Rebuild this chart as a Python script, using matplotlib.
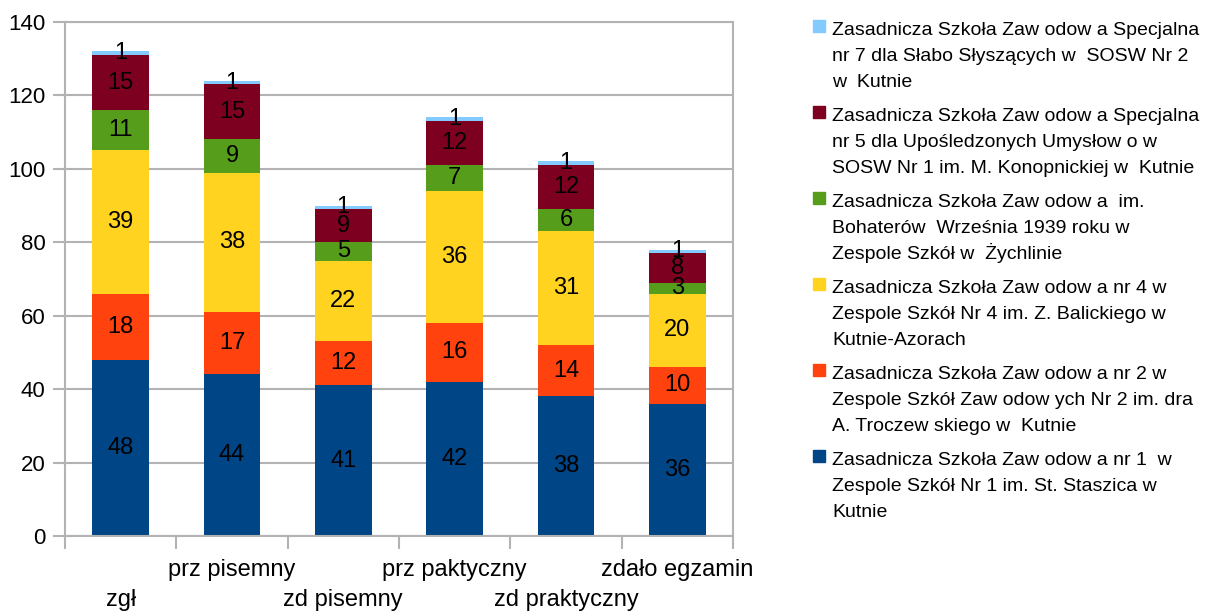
import numpy as np
import matplotlib
matplotlib.use('Agg')
import matplotlib.pyplot as plt
from matplotlib.patches import Rectangle

plt.rcParams['font.family'] = ['Liberation Sans', 'DejaVu Sans']

# categories (exam stages)
categories = ['zgł', 'prz pisemny', 'zd pisemny', 'prz paktyczny', 'zd praktyczny', 'zdało egzamin']

# one list per school, bottom of the stack first
zsz1 = [48, 44, 41, 42, 38, 36]
zsz2 = [18, 17, 12, 16, 14, 10]
zsz4 = [39, 38, 22, 36, 31, 20]
zsz_zychlin = [11, 9, 5, 7, 6, 3]
zsz5_spec = [15, 15, 9, 12, 12, 8]
zsz7_spec = [1, 1, 1, 1, 1, 1]

series = [zsz1, zsz2, zsz4, zsz_zychlin, zsz5_spec, zsz7_spec]
names = [
    ['Zasadnicza Szkoła Zaw odow a nr 1  w', 'Zespole Szkół Nr 1 im. St. Staszica w', 'Kutnie'],
    ['Zasadnicza Szkoła Zaw odow a nr 2 w', 'Zespole Szkół Zaw odow ych Nr 2 im. dra', 'A. Troczew skiego w  Kutnie'],
    ['Zasadnicza Szkoła Zaw odow a nr 4 w', 'Zespole Szkół Nr 4 im. Z. Balickiego w', 'Kutnie-Azorach'],
    ['Zasadnicza Szkoła Zaw odow a  im.', 'Bohaterów  Września 1939 roku w', 'Zespole Szkół w  Żychlinie'],
    ['Zasadnicza Szkoła Zaw odow a Specjalna', 'nr 5 dla Upośledzonych Umysłow o w', 'SOSW Nr 1 im. M. Konopnickiej w  Kutnie'],
    ['Zasadnicza Szkoła Zaw odow a Specjalna', 'nr 7 dla Słabo Słyszących w  SOSW Nr 2', 'w  Kutnie'],
]
colors = ['#004586', '#ff420e', '#ffd320', '#579d1c', '#7e0021', '#83caff']

fig = plt.figure(figsize=(12.05, 6.12), dpi=100)
ax = fig.add_axes([0.0539, 0.1242, 0.5544, 0.8399])

x = np.arange(len(categories))
bottom = np.zeros(len(categories))
for vals, col in zip(series, colors):
    bars = ax.bar(x, vals, width=0.51, bottom=bottom, color=col, zorder=2)
    ax.bar_label(bars, labels=[str(v) for v in vals], label_type='center',
                 fontsize=17, color='black')
    bottom += np.array(vals)

grid_col = '#b3b3b3'
ax.set_ylim(0, 140)
ax.set_xlim(-0.5, len(categories) - 0.5)
ax.set_yticks(range(0, 141, 20))
ax.yaxis.grid(True, color=grid_col, linewidth=1.5, zorder=0)
ax.set_axisbelow(True)
for sp in ax.spines.values():
    sp.set_color(grid_col)
    sp.set_linewidth(1.5)

ax.set_xticks(np.arange(-0.5, len(categories), 1.0))
ax.set_xticklabels([])
ax.tick_params(axis='x', length=9, width=1.5, color=grid_col)
ax.tick_params(axis='y', length=9, width=1.5, color=grid_col, labelsize=16, pad=5)

# staggered category labels
for i, c in enumerate(categories):
    yy = -0.124 if i % 2 == 0 else -0.066
    ax.text(i, yy, c, transform=ax.get_xaxis_transform(), ha='center',
            va='center', fontsize=17)

# legend, top entry first, one text per line
W, H = 1205, 612
for k, idx in enumerate(range(len(series) - 1, -1, -1)):
    y0 = 28 + 86 * k
    fig.patches.append(Rectangle((813 / W, 1 - (y0 + 4) / H), 12 / W, 12 / H,
                                 transform=fig.transFigure, color=colors[idx]))
    for j, line in enumerate(names[idx]):
        yb = y0 + 26 * j + 7
        fig.text(832 / W, 1 - yb / H, line, fontsize=14, va='baseline', ha='left')

fig.savefig('out.png', dpi=100)
